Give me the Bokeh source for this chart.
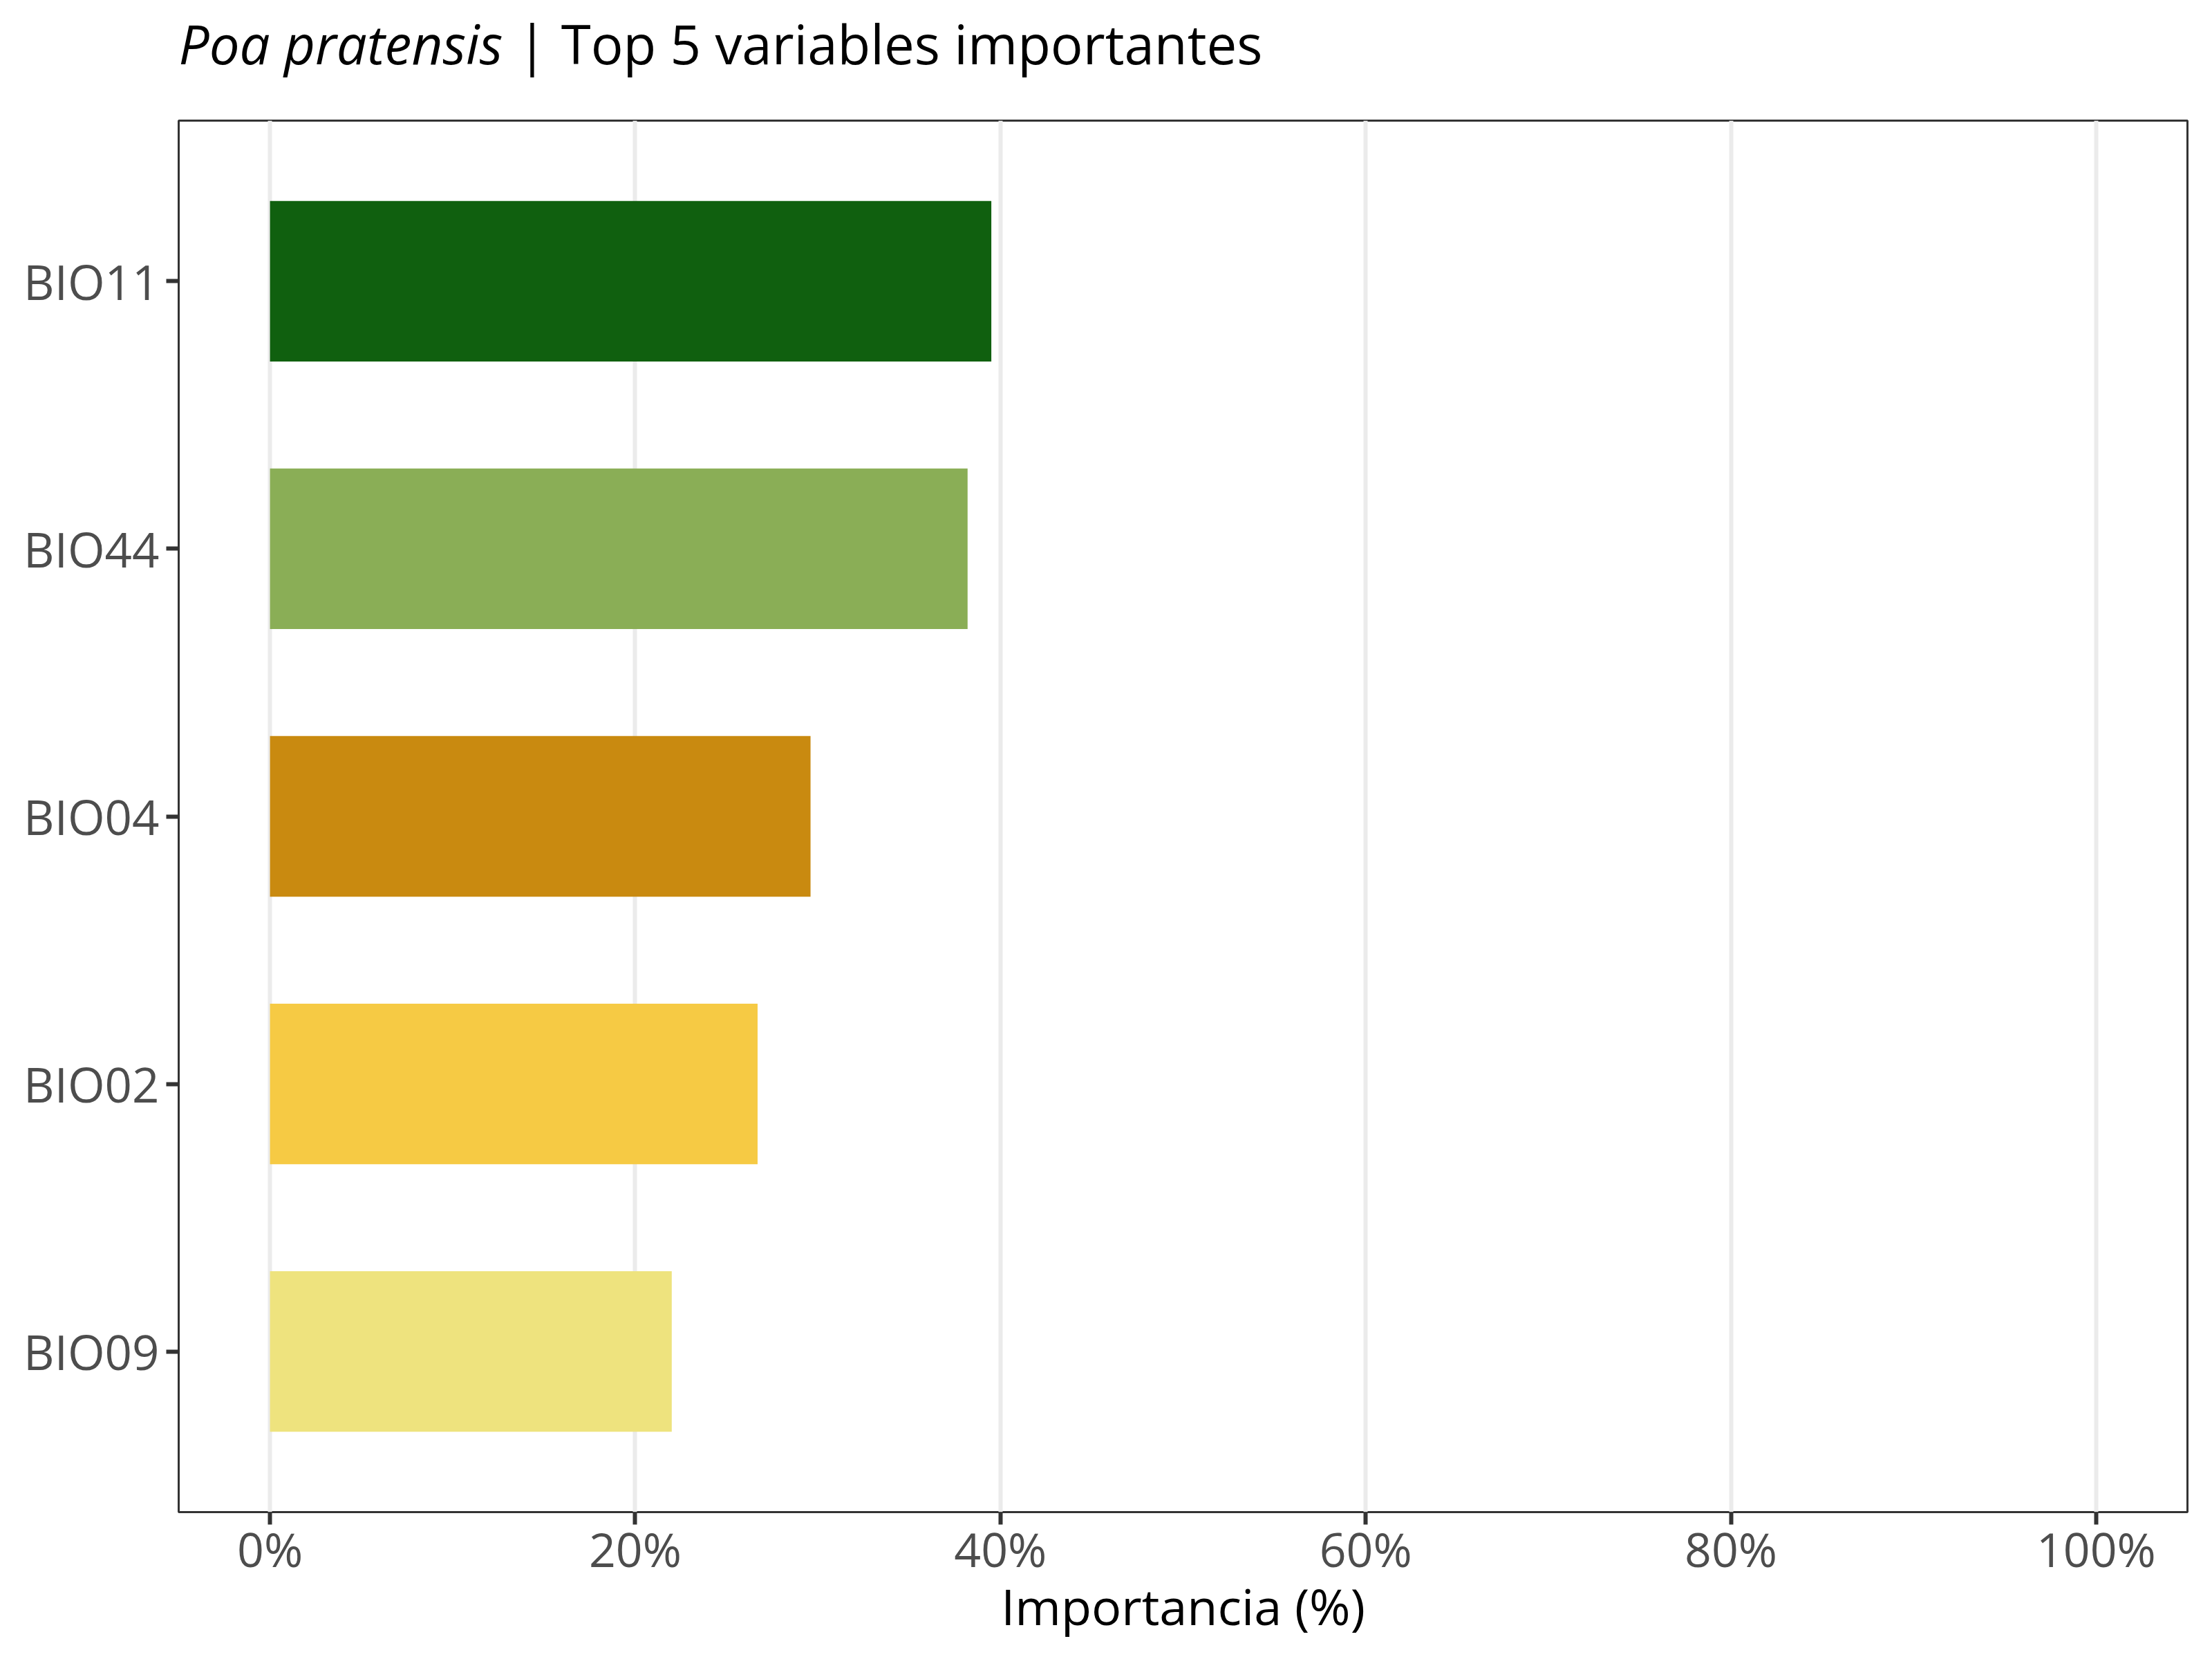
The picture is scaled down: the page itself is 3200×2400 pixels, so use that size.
from bokeh.plotting import figure
from bokeh.layouts import column
from bokeh.models import Range1d, FactorRange, FixedTicker, PrintfTickFormatter, ColumnDataSource
from bokeh.core.properties import value
from bokeh.embed import file_html
from bokeh.resources import INLINE

# ---- data ----
variables = ["BIO09", "BIO02", "BIO04", "BIO44", "BIO11"]   # bottom -> top
importance = [22.0, 26.7, 29.6, 38.2, 39.5]                  # percent
bar_colors = ["#EEE37E", "#F6CA44", "#C98A10", "#8AAE56", "#10600F"]
x_ticks = [0, 20, 40, 60, 80, 100]
species = "Poa pratensis"
subtitle = "| Top 5 variables importantes"
x_title = "Importancia (%)"

FONT = "Open Sans"
W = 3184
H = 2384
TITLE_H = 150
LEFT, RIGHT = 258, 20

# ---- title strip ----
t = figure(
    width=W, height=TITLE_H, title=None,
    output_backend="svg", toolbar_location=None,
    x_range=Range1d(-5, 105), y_range=Range1d(0, 1),
    x_axis_location=None, y_axis_location=None,
    min_border_left=LEFT, min_border_right=RIGHT,
    min_border_top=0, min_border_bottom=0,
)
t.outline_line_color = None
t.xgrid.grid_line_color = None
t.ygrid.grid_line_color = None
t.background_fill_color = "white"
t.border_fill_color = "white"
ty = 1 - 62 / TITLE_H
t.text(x=[-5], y=[ty], text=[species], text_font=value(FONT),
       text_font_style="italic", text_font_size="78px", text_color="black",
       text_align="left", text_baseline="alphabetic")
t.text(x=[13.55], y=[ty], text=[subtitle], text_font=value(FONT),
       text_font_size="78px", text_color="black",
       text_align="left", text_baseline="alphabetic")

# ---- main chart ----
src = ColumnDataSource(dict(var=variables, imp=importance, col=bar_colors))

p = figure(
    width=W, height=H - TITLE_H,
    title=None,
    output_backend="svg", toolbar_location=None,
    x_range=Range1d(-5, 105),
    y_range=FactorRange(factors=variables, range_padding=0.04),
    min_border_left=LEFT, min_border_right=RIGHT,
    min_border_top=174 - TITLE_H, min_border_bottom=197,
)

p.hbar(y="var", left=0, right="imp", height=0.6, fill_color="col",
       line_color=None, source=src)

p.background_fill_color = "white"
p.border_fill_color = "white"
p.outline_line_color = "#333333"
p.outline_line_width = 3

p.ygrid.grid_line_color = None
p.xgrid.grid_line_color = "#EBEBEB"
p.xgrid.grid_line_width = 6
p.xgrid.ticker = FixedTicker(ticks=x_ticks)

xa = p.xaxis[0]
xa.ticker = FixedTicker(ticks=x_ticks)
xa.formatter = PrintfTickFormatter(format="%d%%")
xa.axis_line_color = None
xa.major_tick_out = 18
xa.major_tick_in = 0
xa.major_tick_line_width = 6
xa.major_tick_line_color = "#333333"
xa.minor_tick_line_color = None
xa.major_label_text_font = FONT
xa.major_label_text_font_size = "68px"
xa.major_label_text_color = "#4D4D4D"
xa.major_label_standoff = -12
xa.axis_label = x_title
xa.axis_label_text_font = FONT
xa.axis_label_text_font_size = "72px"
xa.axis_label_text_font_style = "normal"
xa.axis_label_text_color = "black"
xa.axis_label_standoff = -16

ya = p.yaxis[0]
ya.axis_line_color = None
ya.major_tick_out = 18
ya.major_tick_in = 0
ya.major_tick_line_width = 6
ya.major_tick_line_color = "#333333"
ya.minor_tick_line_color = None
ya.major_label_text_font = FONT
ya.major_label_text_font_size = "69px"
ya.major_label_text_color = "#4D4D4D"
ya.major_label_standoff = 10

layout = column(t, p, spacing=0)
open("out.html", "w").write(file_html(layout, INLINE))
